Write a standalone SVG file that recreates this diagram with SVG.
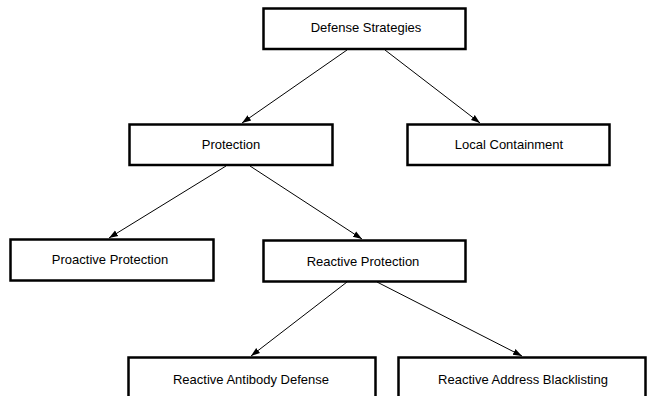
<svg xmlns="http://www.w3.org/2000/svg" width="647" height="396" viewBox="0 0 647 396">
<style>
.box{fill:#fff;stroke:#000;stroke-width:2.5}
.lbl{font-family:"Liberation Sans",Arial,sans-serif;font-size:13px;fill:#000;text-anchor:middle}
.edge{stroke:#000;stroke-width:1;fill:none;marker-end:url(#ah)}
</style>
<defs>
<marker id="ah" viewBox="0 0 10 10" refX="10" refY="5" markerWidth="9" markerHeight="9" markerUnits="userSpaceOnUse" orient="auto">
<path d="M0,1.5 L10,5 L0,8.5 Z" fill="#000"/>
</marker>
</defs>
<rect width="647" height="396" fill="#fff"/>
<g id="connectors">
<line class="edge" x1="347" y1="50" x2="242" y2="123"/>
<line class="edge" x1="385" y1="50" x2="480" y2="123"/>
<line class="edge" x1="226" y1="166" x2="109" y2="238"/>
<line class="edge" x1="250" y1="166" x2="362" y2="239"/>
<line class="edge" x1="347" y1="282" x2="251" y2="356"/>
<line class="edge" x1="377" y1="282" x2="522" y2="356"/>
</g>
<g id="n-defense">
<rect class="box" x="263.5" y="8.5" width="202" height="40.5"/>
<text class="lbl" x="366" y="32">Defense Strategies</text>
</g>
<g id="n-protection">
<rect class="box" x="129.5" y="124.5" width="203" height="40.5"/>
<text class="lbl" x="231" y="149">Protection</text>
</g>
<g id="n-local">
<rect class="box" x="407.5" y="124.5" width="202" height="40.5"/>
<text class="lbl" x="509" y="149">Local Containment</text>
</g>
<g id="n-proactive">
<rect class="box" x="10.5" y="239.5" width="203" height="41"/>
<text class="lbl" x="110" y="264">Proactive Protection</text>
</g>
<g id="n-reactive">
<rect class="box" x="263.5" y="240.5" width="202" height="41"/>
<text class="lbl" x="363" y="266">Reactive Protection</text>
</g>
<g id="n-antibody">
<rect class="box" x="128.5" y="357.5" width="247" height="42"/>
<text class="lbl" x="251" y="384">Reactive Antibody Defense</text>
</g>
<g id="n-blacklisting">
<rect class="box" x="398.5" y="357.5" width="247" height="42"/>
<text class="lbl" x="523" y="384">Reactive Address Blacklisting</text>
</g>
</svg>
